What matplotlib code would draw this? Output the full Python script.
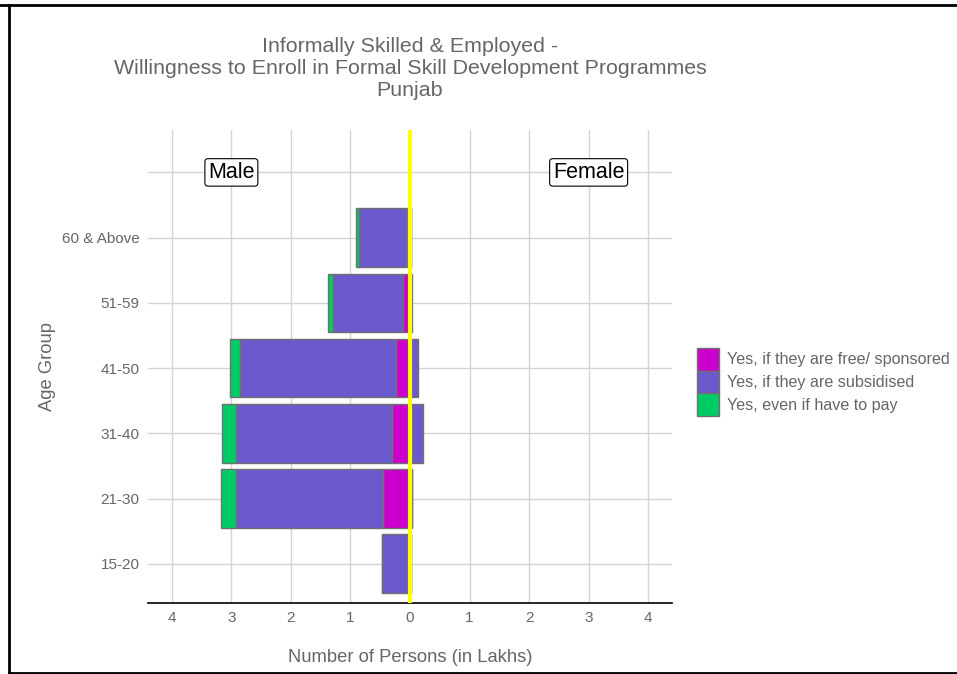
import matplotlib
matplotlib.use("Agg")
import matplotlib.pyplot as plt
import numpy as np

plt.rcParams['font.family'] = ['Liberation Sans', 'DejaVu Sans']

# data (in lakhs)
age_groups = ["15-20", "21-30", "31-40", "41-50", "51-59", "60 & Above"]
male_free = [0.04, 0.45, 0.31, 0.23, 0.11, 0.05]
male_subsidised = [0.43, 2.47, 2.62, 2.62, 1.18, 0.81]
male_pay = [0.00, 0.25, 0.22, 0.17, 0.08, 0.05]
female_free = [0.01, 0.03, 0.04, 0.02, 0.02, 0.01]
female_subsidised = [0.00, 0.00, 0.17, 0.11, 0.02, 0.01]

series_names = ["Yes, if they are free/ sponsored",
                "Yes, if they are subsidised",
                "Yes, even if have to pay"]
colors = ["#CC00CC", "#6A5ACD", "#00CC66"]
edge = "#707070"
grey_text = "#666666"

fig = plt.figure(figsize=(9.57, 6.74), dpi=100)
ax = fig.add_axes([148 / 957, 1 - 603 / 674, (672 - 148) / 957, (603 - 130) / 674])

y = np.arange(1, len(age_groups) + 1)
h = 0.9

mf = np.array(male_free)
ms = np.array(male_subsidised)
mp = np.array(male_pay)
ff = np.array(female_free)
fs = np.array(female_subsidised)

# male side (negative)
ax.barh(y, -mf, height=h, color=colors[0], edgecolor=edge, linewidth=1, zorder=3)
ax.barh(y, -ms, left=-mf, height=h, color=colors[1], edgecolor=edge, linewidth=1, zorder=3)
ax.barh(y, -mp, left=-(mf + ms), height=h, color=colors[2], edgecolor=edge, linewidth=1, zorder=3)
# female side (positive)
ax.barh(y, ff, height=h, color=colors[0], edgecolor=edge, linewidth=1, zorder=3)
ax.barh(y, fs, left=ff, height=h, color=colors[1], edgecolor=edge, linewidth=1, zorder=3)

ax.axvline(0, color="#FFFF00", linewidth=3, zorder=4)

ax.set_xlim(-4.4, 4.4)
ax.set_ylim(0.4, 7.65)
ax.set_xticks(range(-4, 5))
ax.set_xticklabels([str(abs(v)) for v in range(-4, 5)])
ax.set_yticks(list(y) + [7])
ax.set_yticklabels(age_groups + [""])
ax.tick_params(axis="both", length=0, labelsize=11, labelcolor=grey_text, pad=6)
ax.grid(True, color="#D3D3D3", linewidth=1, zorder=0)
for s in ["top", "right", "left"]:
    ax.spines[s].set_visible(False)
ax.spines["bottom"].set_color("black")
ax.spines["bottom"].set_linewidth(1.2)

ax.set_xlabel("Number of Persons (in Lakhs)", fontsize=13.2, color=grey_text, labelpad=17)
ax.set_ylabel("Age Group", fontsize=13.2, color=grey_text, labelpad=4)

box = dict(boxstyle="round,pad=0.15", facecolor="white", edgecolor="black", linewidth=0.8)
ax.text(-3, 7, "Male", fontsize=15.5, ha="center", va="center", bbox=box, zorder=5)
ax.text(3, 7, "Female", fontsize=15.5, ha="center", va="center", bbox=box, zorder=5)

fig.text(410 / 957, 1 - 69 / 674,
         "Informally Skilled & Employed -\nWillingness to Enroll in Formal Skill Development Programmes\nPunjab",
         ha="center", va="center", fontsize=15.4, color=grey_text, linespacing=1.2)

handles = [plt.Rectangle((0, 0), 1, 1, facecolor=c, edgecolor=edge, linewidth=1) for c in colors]
fig.legend(handles, series_names, loc="center left", bbox_to_anchor=(691 / 957, 1 - 382 / 674),
           frameon=False, fontsize=11.6, labelcolor=grey_text, handlelength=1.35, handleheight=1.8,
           handletextpad=0.5, labelspacing=0.0, borderaxespad=0)

# frame lines of the screenshot
fig.add_artist(plt.Line2D([0, 1], [1 - 5 / 674, 1 - 5 / 674], color="black", linewidth=2))
fig.add_artist(plt.Line2D([9 / 957, 9 / 957], [0, 1 - 5 / 674], color="black", linewidth=2))
fig.add_artist(plt.Line2D([9 / 957, 1], [1 / 674, 1 / 674], color="black", linewidth=2))

fig.savefig("out.png", dpi=100, facecolor="white")
